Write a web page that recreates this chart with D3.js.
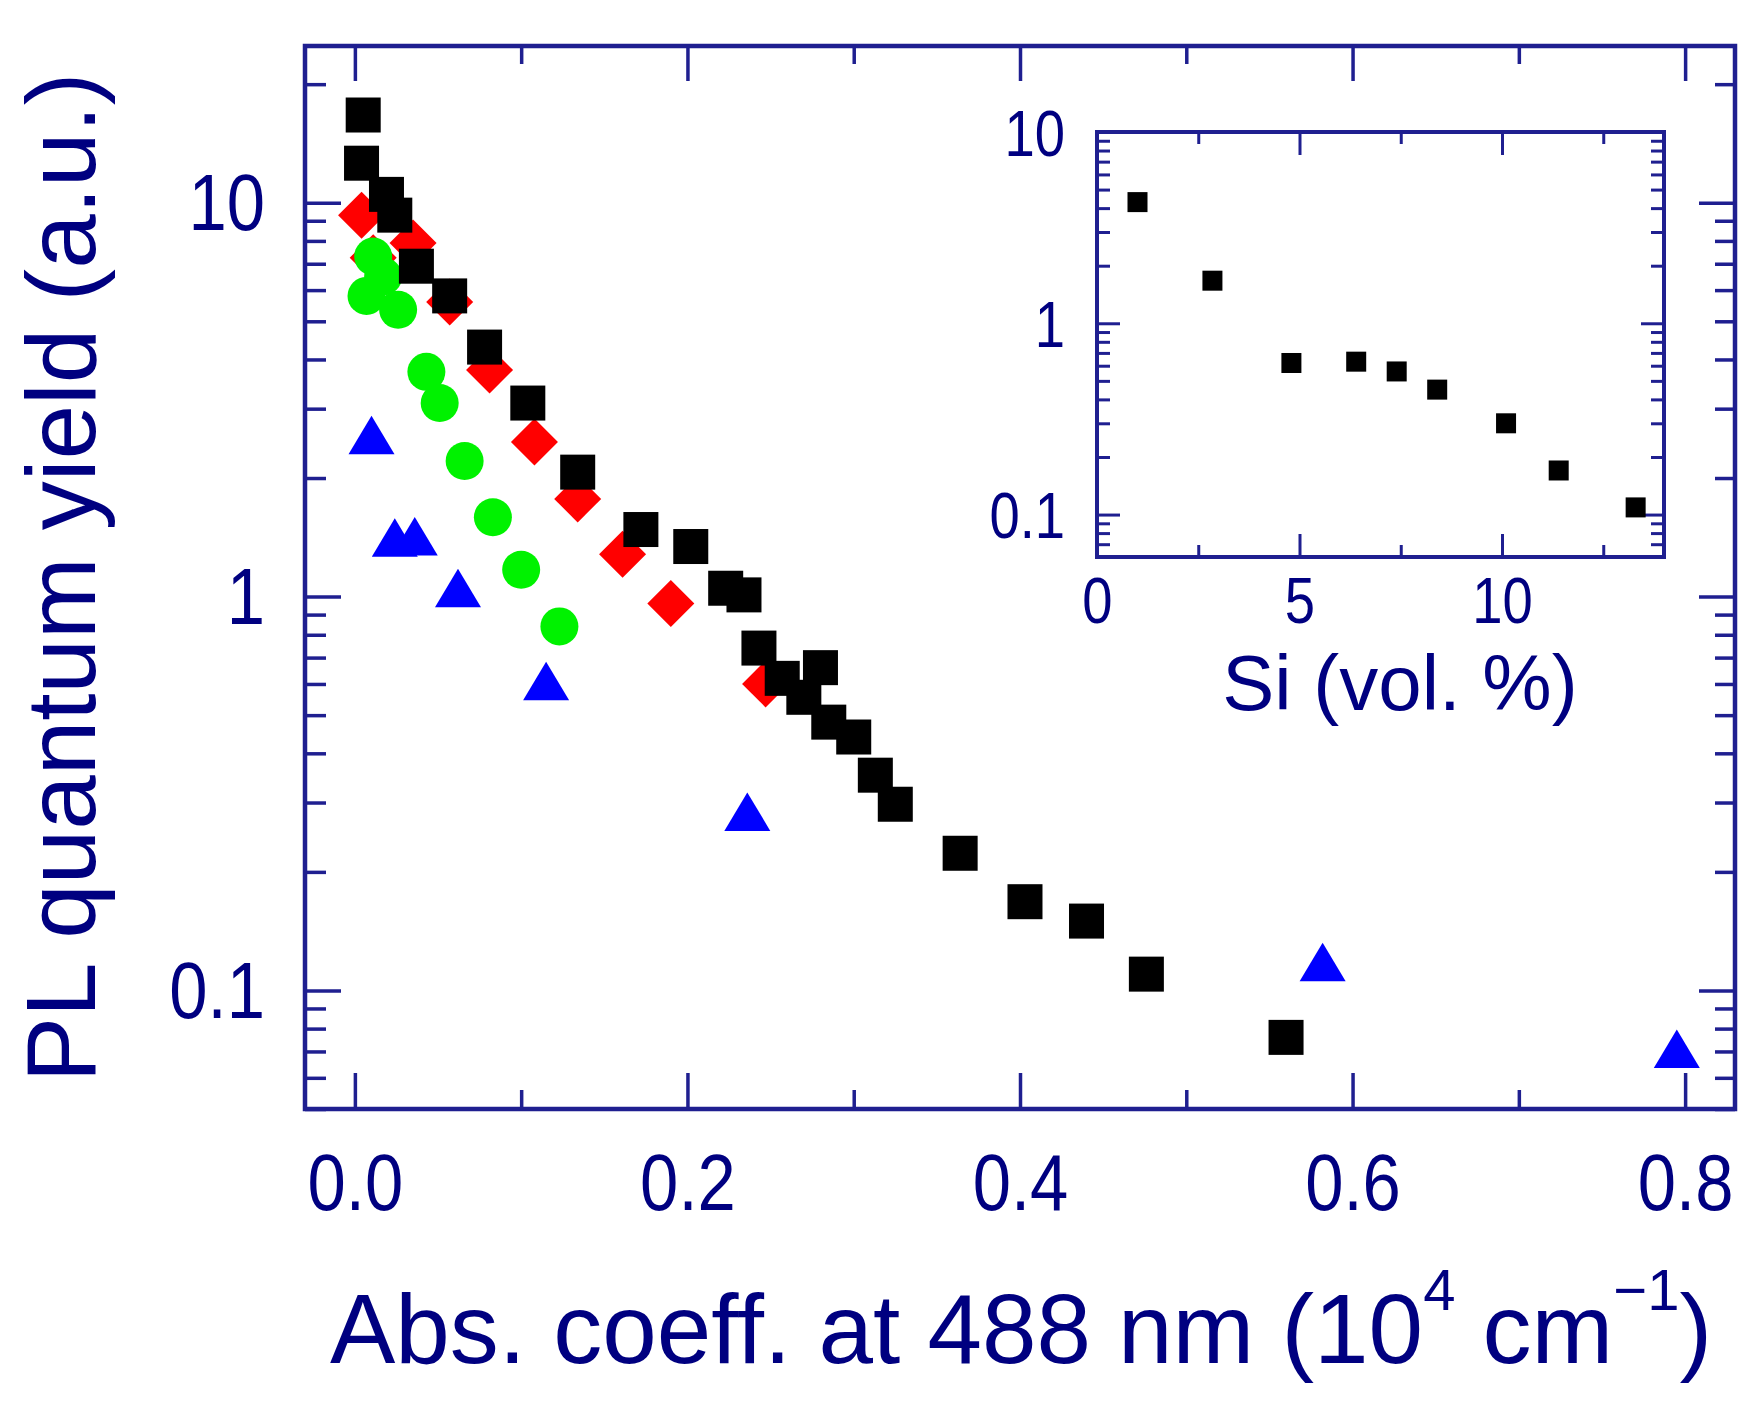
<!DOCTYPE html>
<html lang="en">
<head>
<meta charset="UTF-8">
<title>PL quantum yield vs absorption</title>
<script src="https://cdn.jsdelivr.net/npm/d3@7"></script>
<style>
  body { margin: 0; background: #fff; }
  svg { display: block; }
</style>
</head>
<body>
<div id="chart"></div>

<script type="text/javascript">

// main plot data: abs. coeff. (10^4 cm^-1) and PL yield (a.u.)
var blackX = [0.005, 0.004, 0.019, 0.024, 0.037, 0.057, 0.078, 0.104, 0.134, 0.172, 0.202, 0.223, 0.234, 0.243, 0.257, 0.280, 0.270, 0.285, 0.300, 0.313, 0.325, 0.364, 0.403, 0.440, 0.476, 0.560];
var blackY = [16.7, 12.6, 10.5, 9.3, 6.9, 5.8, 4.3, 3.1, 2.07, 1.48, 1.34, 1.05, 1.01, 0.74, 0.62, 0.66, 0.555, 0.48, 0.44, 0.352, 0.297, 0.223, 0.168, 0.150, 0.110, 0.076];

var redX = [0.004, 0.011, 0.035, 0.057, 0.081, 0.108, 0.134, 0.161, 0.190, 0.247];
var redY = [9.3, 7.25, 7.9, 5.6, 3.76, 2.47, 1.77, 1.28, 0.96, 0.60];

var greenX = [0.011, 0.017, 0.007, 0.026, 0.043, 0.051, 0.066, 0.083, 0.100, 0.123];
var greenY = [7.3, 6.5, 5.8, 5.35, 3.72, 3.1, 2.21, 1.59, 1.17, 0.84];

var blueX = [0.010, 0.024, 0.036, 0.062, 0.115, 0.236, 0.582, 0.795];
var blueY = [2.57, 1.41, 1.42, 1.05, 0.61, 0.284, 0.118, 0.071];

// inset data
var siVol = [1.0, 2.85, 4.8, 6.4, 7.4, 8.4, 10.1, 11.4, 13.3];
var siYield = [4.3, 1.67, 0.62, 0.63, 0.56, 0.45, 0.30, 0.17, 0.109];

// ticks
var xMajor = [0, 0.2, 0.4, 0.6, 0.8];
var xMinor = [0.1, 0.3, 0.5, 0.7];
var yMajor = [0.1, 1, 10];
var yMinor = [0.05, 0.06, 0.07, 0.08, 0.09, 0.2, 0.3, 0.4, 0.5, 0.6, 0.7, 0.8, 0.9, 2, 3, 4, 5, 6, 7, 8, 9, 20];
var inXMajor = [0, 5, 10];
var inXMinor = [2.5, 7.5, 12.5];
var inYMajor = [0.1, 1, 10];
var inYMinor = [0.06, 0.07, 0.08, 0.09, 0.2, 0.3, 0.4, 0.5, 0.6, 0.7, 0.8, 0.9, 2, 3, 4, 5, 6, 7, 8, 9];

var lineCol = "#1f1f90", textCol = "#000080";
var FONT = "'Liberation Sans', Arial, Helvetica, sans-serif";

var svg = d3.select("#chart").append("svg")
  .attr("width", 1741)
  .attr("height", 1410)
  .style("background", "#fff");

// main scales
var L = 305, R = 1735, T = 46, B = 1109;
var x = d3.scaleLinear().domain([-0.03, 0.83]).range([L, R]);
var y = d3.scaleLog().domain([0.05, 25]).range([B, T]);

function fmt(d) { return d < 1 ? "0.1" : String(d); }

function styleAxis(g, w) {
  g.select(".domain").remove();
  g.selectAll("line").attr("stroke", lineCol).attr("stroke-width", w);
  g.attr("font-family", FONT).attr("fill", textCol);
  g.selectAll("text").attr("fill", textCol);
}

// bottom
svg.append("g").attr("transform", "translate(0," + B + ")")
  .call(d3.axisBottom(x).tickValues(xMajor).tickSizeInner(-36).tickSizeOuter(0).tickFormat(d3.format(".1f")))
  .call(styleAxis, 3.5)
  .call(function(g) {
    g.selectAll("text").attr("font-size", 80).attr("y", 101).attr("dy", null)
      .attr("transform", "scale(0.86,1)");
  });
svg.append("g").attr("transform", "translate(0," + B + ")")
  .call(d3.axisBottom(x).tickValues(xMinor).tickSizeInner(-19).tickSizeOuter(0).tickFormat(""))
  .call(styleAxis, 3.5);
// top
svg.append("g").attr("transform", "translate(0," + T + ")")
  .call(d3.axisTop(x).tickValues(xMajor).tickSizeInner(-35).tickSizeOuter(0).tickFormat(""))
  .call(styleAxis, 3.5);
svg.append("g").attr("transform", "translate(0," + T + ")")
  .call(d3.axisTop(x).tickValues(xMinor).tickSizeInner(-18).tickSizeOuter(0).tickFormat(""))
  .call(styleAxis, 3.5);
// left
svg.append("g").attr("transform", "translate(" + L + ",0)")
  .call(d3.axisLeft(y).tickValues(yMajor).tickSizeInner(-36).tickSizeOuter(0).tickFormat(fmt))
  .call(styleAxis, 3.5)
  .call(function(g) {
    g.selectAll("text").attr("font-size", 80).attr("x", -40 / 0.86).attr("dy", 27)
      .attr("transform", "scale(0.86,1)");
  });
svg.append("g").attr("transform", "translate(" + L + ",0)")
  .call(d3.axisLeft(y).tickValues(yMinor).tickSizeInner(-21).tickSizeOuter(0).tickFormat(""))
  .call(styleAxis, 3.5);
// right
svg.append("g").attr("transform", "translate(" + R + ",0)")
  .call(d3.axisRight(y).tickValues(yMajor).tickSizeInner(-36).tickSizeOuter(0).tickFormat(""))
  .call(styleAxis, 3.5);
svg.append("g").attr("transform", "translate(" + R + ",0)")
  .call(d3.axisRight(y).tickValues(yMinor).tickSizeInner(-20).tickSizeOuter(0).tickFormat(""))
  .call(styleAxis, 3.5);

// frame
svg.append("rect")
  .attr("x", L).attr("y", T).attr("width", R - L).attr("height", B - T)
  .attr("fill", "none").attr("stroke", lineCol).attr("stroke-width", 4.5);

// axis titles
svg.append("text")
  .attr("transform", "translate(95," + (T + B) / 2 + ") rotate(-90)")
  .attr("text-anchor", "middle")
  .attr("font-family", FONT).attr("font-size", 98).attr("fill", textCol)
  .text("PL quantum yield (a.u.)");

var xt = svg.append("text")
  .attr("x", 1021).attr("y", 1363)
  .attr("text-anchor", "middle")
  .attr("font-family", FONT).attr("font-size", 98).attr("fill", textCol);
xt.append("tspan").text("Abs. coeff. at 488 nm (10");
xt.append("tspan").attr("font-size", 58).attr("dy", -53).text("4");
xt.append("tspan").attr("dy", 53).text(" cm");
xt.append("tspan").attr("font-size", 58).attr("dy", -53).text("\u22121");
xt.append("tspan").attr("dy", 53).text(")");

// markers
function pts(xs, ys) { return xs.map(function(v, i) { return [v, ys[i]]; }); }

svg.append("g").selectAll("path")
  .data(pts(redX, redY))
  .enter().append("path")
  .attr("d", "M0,-23.5L23.5,0L0,23.5L-23.5,0Z")
  .attr("transform", function(d) { return "translate(" + x(d[0]) + "," + y(d[1]) + ")"; })
  .attr("fill", "#ff0000");

svg.append("g").selectAll("circle")
  .data(pts(greenX, greenY))
  .enter().append("circle")
  .attr("cx", function(d) { return x(d[0]); })
  .attr("cy", function(d) { return y(d[1]); })
  .attr("r", 19)
  .attr("fill", "#00f200");

svg.append("g").selectAll("path")
  .data(pts(blueX, blueY))
  .enter().append("path")
  .attr("d", "M0,-19.5L23,19L-23,19Z")
  .attr("transform", function(d) { return "translate(" + x(d[0]) + "," + y(d[1]) + ")"; })
  .attr("fill", "#0000ff");

svg.append("g").selectAll("rect")
  .data(pts(blackX, blackY))
  .enter().append("rect")
  .attr("x", function(d) { return x(d[0]) - 17.5; })
  .attr("y", function(d) { return y(d[1]) - 17.5; })
  .attr("width", 35).attr("height", 35)
  .attr("fill", "#000");

// ---- inset ----
var iL = 1097, iR = 1664, iT = 132, iB = 557;
var ix = d3.scaleLinear().domain([0, 14]).range([iL, iR]);
var iy = d3.scaleLog().domain([0.06, 10]).range([iB, iT]);

svg.append("rect")
  .attr("x", iL).attr("y", iT).attr("width", iR - iL).attr("height", iB - iT)
  .attr("fill", "#fff");

svg.append("g").attr("transform", "translate(0," + iB + ")")
  .call(d3.axisBottom(ix).tickValues(inXMajor).tickSizeInner(-23).tickSizeOuter(0).tickFormat(d3.format("d")))
  .call(styleAxis, 3)
  .call(function(g) {
    g.selectAll("text").attr("font-size", 64).attr("y", 66).attr("dy", null)
      .attr("transform", "scale(0.85,1)");
  });
svg.append("g").attr("transform", "translate(0," + iB + ")")
  .call(d3.axisBottom(ix).tickValues(inXMinor).tickSizeInner(-12).tickSizeOuter(0).tickFormat(""))
  .call(styleAxis, 3);
svg.append("g").attr("transform", "translate(0," + iT + ")")
  .call(d3.axisTop(ix).tickValues(inXMajor).tickSizeInner(-23).tickSizeOuter(0).tickFormat(""))
  .call(styleAxis, 3);
svg.append("g").attr("transform", "translate(0," + iT + ")")
  .call(d3.axisTop(ix).tickValues(inXMinor).tickSizeInner(-12).tickSizeOuter(0).tickFormat(""))
  .call(styleAxis, 3);

svg.append("g").attr("transform", "translate(" + iL + ",0)")
  .call(d3.axisLeft(iy).tickValues(inYMajor).tickSizeInner(-23).tickSizeOuter(0).tickFormat(fmt))
  .call(styleAxis, 3)
  .call(function(g) {
    g.selectAll("text").attr("font-size", 64).attr("x", -32 / 0.85).attr("dy", 23)
      .attr("transform", "scale(0.85,1)");
  });
svg.append("g").attr("transform", "translate(" + iL + ",0)")
  .call(d3.axisLeft(iy).tickValues(inYMinor).tickSizeInner(-13).tickSizeOuter(0).tickFormat(""))
  .call(styleAxis, 3);
svg.append("g").attr("transform", "translate(" + iR + ",0)")
  .call(d3.axisRight(iy).tickValues(inYMajor).tickSizeInner(-23).tickSizeOuter(0).tickFormat(""))
  .call(styleAxis, 3);
svg.append("g").attr("transform", "translate(" + iR + ",0)")
  .call(d3.axisRight(iy).tickValues(inYMinor).tickSizeInner(-13).tickSizeOuter(0).tickFormat(""))
  .call(styleAxis, 3);

svg.append("rect")
  .attr("x", iL).attr("y", iT).attr("width", iR - iL).attr("height", iB - iT)
  .attr("fill", "none").attr("stroke", lineCol).attr("stroke-width", 4);

svg.append("text")
  .attr("x", 1400).attr("y", 710)
  .attr("text-anchor", "middle")
  .attr("font-family", FONT).attr("font-size", 78).attr("fill", textCol)
  .text("Si (vol. %)");

svg.append("g").selectAll("rect")
  .data(pts(siVol, siYield))
  .enter().append("rect")
  .attr("x", function(d) { return ix(d[0]) - 10; })
  .attr("y", function(d) { return iy(d[1]) - 10; })
  .attr("width", 20).attr("height", 20)
  .attr("fill", "#000");

</script>
</body>
</html>
